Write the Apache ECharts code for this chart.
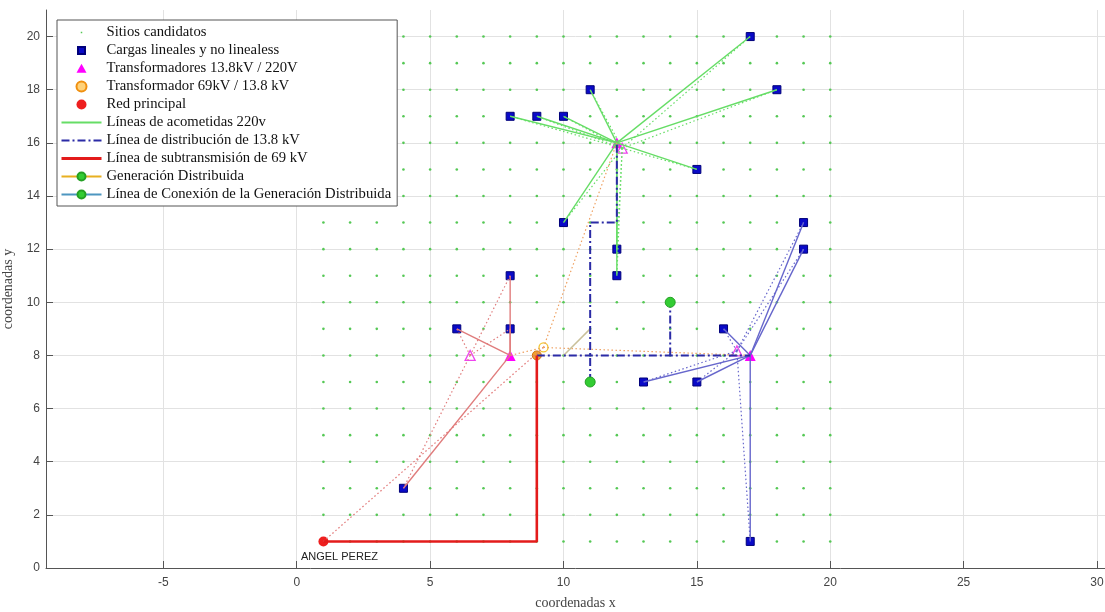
<!DOCTYPE html>
<html>
<head>
<meta charset="utf-8">
<script src="https://cdn.jsdelivr.net/npm/echarts@6/dist/echarts.min.js"></script>
<style>
  html, body { margin: 0; padding: 0; background: #fff; }
  #chart { width: 1105px; height: 612px; }
</style>
</head>
<body>
<div id="chart"></div>
<script>
// ticks
const xTicks = [-5, 0, 5, 10, 15, 20, 25, 30];
const yTicks = [0, 2, 4, 6, 8, 10, 12, 14, 16, 18, 20];

// candidate sites lattice
const siteCols = [1, 2, 3, 4, 5, 6, 7, 8, 9, 10, 11, 12, 13, 14, 15, 16, 17, 18, 19, 20];
const siteRows = [1, 2, 3, 4, 5, 6, 7, 8, 9, 10, 11, 12, 13, 14, 15, 16, 17, 18, 19, 20];

// loads per transformer group
const grupoVerde = [[17, 20], [18, 18], [11, 18], [8, 17], [9, 17], [10, 17], [15, 15], [10, 13], [12, 12], [12, 11]];
const grupoAzul = [[19, 13], [19, 12], [16, 9], [13, 7], [15, 7], [17, 1]];
const grupoRojo = [[8, 11], [8, 9], [6, 9], [4, 3]];

// transformers (chosen site) and ideal centroid positions, same order
const transformadores = [[12, 16], [17, 8], [8, 8]];
const centroides = [[12.2, 15.8], [16.5, 8.17], [6.5, 8]];

const subestacion = [[9, 8]];
const subestacionIdeal = [[9.25, 8.3]];
const redPrincipal = [[1, 1]];
const generacion = [[14, 10], [11, 7]];

const linea69 = [[1, 1], [9, 1], [9, 8]];
const distribucion = [
  [[9, 8], [17, 8]],
  [[11, 7], [11, 13], [12, 13], [12, 16]],
  [[14, 8], [14, 10]]
];
const tramoOliva = [[10, 8], [11, 9]];

const N = {
  sitios: "Sitios candidatos",
  cargas: "Cargas lineales y no linealess",
  trafo: "Transformadores 13.8kV / 220V",
  sub: "Transformador 69kV / 13.8 kV",
  red: "Red principal",
  acom: "Líneas de acometidas 220v",
  dist: "Línea de distribución de 13.8 kV",
  sub69: "Línea de subtransmisión de 69 kV",
  gd: "Generación Distribuida",
  gdCon: "Línea de Conexión de la Generación Distribuida"
};

const sitios = [];
siteRows.forEach((y) => siteCols.forEach((x) => sitios.push([x, y])));

const DOT = [1.5, 2.5];
const DASHDOT = [8, 3, 2, 3];

const series = [];
const line = (name, data, color, width, type) => {
  series.push({
    type: "line", name: name, data: data, symbol: "none", silent: true,
    lineStyle: { color: color, width: width, type: type || "solid" }
  });
};

series.push({
  type: "scatter", name: N.sitios, data: sitios, symbol: "circle", symbolSize: 2.6,
  itemStyle: { color: "#55c855", opacity: 1 }, silent: true
});

// group lines: solid from chosen site, dotted from centroid
const grupos = [grupoVerde, grupoAzul, grupoRojo];
const colores = ["#66dd66", "#6767cc", "#e07c7c"];
grupos.forEach((g, i) => {
  g.forEach((p) => {
    line(i === 0 ? N.acom : "g" + i, [transformadores[i], p], colores[i], 1.4);
    line("c" + i, [centroides[i], p], colores[i], 1.2, DOT);
  });
});

// ideal substation links
line("s0", [redPrincipal[0], subestacionIdeal[0]], "#e07070", 1.2, DOT);
transformadores.forEach((t) => line("s1", [subestacionIdeal[0], t], "#eea060", 1.2, DOT));
line("ol", tramoOliva, "#c9c09a", 1.5);

distribucion.forEach((d) => line(N.dist, d, "#2b2ba6", 2, DASHDOT));
line(N.sub69, linea69, "#e31b1b", 2.6);

// legend-only entry
series.push({
  type: "line", name: N.gdCon, data: [], symbol: "circle", symbolSize: 10,
  itemStyle: { color: "#33cc33", borderColor: "#24a024", borderWidth: 1 },
  lineStyle: { color: "#4d96c0", width: 1.5 }
});

series.push({
  type: "scatter", name: N.cargas, data: grupoVerde.concat(grupoAzul, grupoRojo),
  symbol: "rect", symbolSize: 8, silent: true,
  itemStyle: { color: "#0a0ac8", borderColor: "#00007a", borderWidth: 1, opacity: 1 }
});
series.push({
  type: "scatter", name: "hueco", data: centroides, symbol: "triangle", symbolSize: 10, silent: true,
  itemStyle: { color: "rgba(255,255,255,0)", borderColor: "#ee44ee", borderWidth: 1.3, opacity: 1 }
});
series.push({
  type: "scatter", name: N.trafo, data: transformadores, symbol: "triangle", symbolSize: 11, silent: true,
  itemStyle: { color: "#ff00ff", opacity: 1 }
});
series.push({
  type: "scatter", name: "subIdeal", data: subestacionIdeal, symbol: "circle", symbolSize: 9, silent: true,
  itemStyle: { color: "rgba(255,255,255,0)", borderColor: "#f2c430", borderWidth: 1.3, opacity: 1 }
});
series.push({
  type: "scatter", name: N.sub, data: subestacion, symbol: "circle", symbolSize: 9, silent: true,
  itemStyle: { color: "#f0a030", borderColor: "#d07010", borderWidth: 1, opacity: 1 }
});
generacion.forEach((p) => {
  series.push({
    type: "line", name: N.gd, data: [p], symbol: "circle", symbolSize: 10, showSymbol: true, silent: true,
    itemStyle: { color: "#33cc33", borderColor: "#24a024", borderWidth: 1 },
    lineStyle: { color: "#e8b020", width: 1.5 }
  });
});
series.push({
  type: "scatter", name: N.red, data: redPrincipal, symbol: "circle", symbolSize: 10, silent: true,
  itemStyle: { color: "#ee1f1f", opacity: 1 },
  label: {
    show: true, position: "bottom", offset: [16, 0], formatter: "ANGEL PEREZ",
    fontFamily: "Liberation Sans", fontSize: 11, color: "#222"
  }
});

const chart = echarts.init(document.getElementById("chart"));
chart.setOption({
  animation: false,
  backgroundColor: "#fff",
  grid: { left: 46, top: 10, right: 0, bottom: 44, outerBoundsMode: "none", containLabel: false },
  legend: {
    orient: "vertical", left: 57, top: 20,
    padding: [5, 6, 4, 3], itemWidth: 40, itemHeight: 10, itemGap: 3,
    backgroundColor: "#fff", borderColor: "#555", borderWidth: 1,
    textStyle: { fontFamily: "Liberation Serif", fontSize: 14.7, color: "#111" },
    selectedMode: false,
    data: [
      { name: N.sitios, icon: "path://M0 0M20 20M8.5 8.5L11.5 8.5L11.5 11.5L8.5 11.5Z" },
      { name: N.cargas, icon: "path://M0 0M10 10M1.5 1.5L8.5 1.5L8.5 8.5L1.5 8.5Z" },
      { name: N.trafo, icon: "path://M0 0M10 10M5 0.3L10 9.3L0 9.3Z" },
      { name: N.sub, itemStyle: { color: "#ffd27a", borderColor: "#f09010", borderWidth: 2 } },
      N.red,
      { name: N.acom, itemStyle: { opacity: 0 } },
      { name: N.dist, itemStyle: { opacity: 0 } },
      { name: N.sub69, itemStyle: { opacity: 0 }, lineStyle: { width: 3 } },
      N.gd, N.gdCon
    ]
  },
  xAxis: {
    type: "value", min: -9.4, max: 30.3,
    name: "coordenadas x", nameLocation: "middle", nameGap: 28,
    nameTextStyle: { fontFamily: "Liberation Serif", fontSize: 14, color: "#444" },
    axisLine: { show: true, onZero: false, lineStyle: { color: "#555", width: 1 } },
    axisTick: { show: true, inside: true, length: 7, customValues: xTicks, lineStyle: { color: "#555" } },
    axisLabel: { customValues: xTicks, margin: 9, fontFamily: "Liberation Sans", fontSize: 12, color: "#444" },
    splitLine: { show: true, lineStyle: { color: "#e2e2e2", width: 1 } }
  },
  yAxis: {
    type: "value", min: 0, max: 21,
    name: "coordenadas y", nameLocation: "middle", nameGap: 31,
    nameTextStyle: { fontFamily: "Liberation Serif", fontSize: 14, color: "#444" },
    axisLine: { show: true, onZero: false, lineStyle: { color: "#555", width: 1 } },
    axisTick: { show: true, inside: true, length: 7, customValues: yTicks, lineStyle: { color: "#555" } },
    axisLabel: { customValues: yTicks, margin: 6, fontFamily: "Liberation Sans", fontSize: 12, color: "#444" },
    splitLine: { show: true, lineStyle: { color: "#e2e2e2", width: 1 } }
  },
  series: series
});
window.addEventListener("resize", () => chart.resize());
</script>
</body>
</html>
